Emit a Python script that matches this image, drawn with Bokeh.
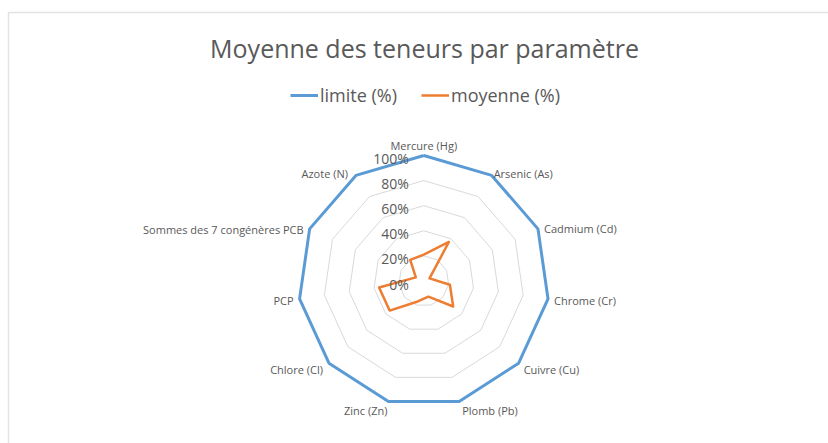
import math
from bokeh.plotting import figure
from bokeh.models import Range1d, Legend, LegendItem
from bokeh.core.properties import value
from bokeh.embed import file_html
from bokeh.resources import INLINE

# ---- data ----
categories = ["Mercure (Hg)", "Arsenic (As)", "Cadmium (Cd)", "Chrome (Cr)",
              "Cuivre (Cu)", "Plomb (Pb)", "Zinc (Zn)", "Chlore (Cl)", "PCP",
              "Sommes des 7 congénères PCB", "Azote (N)"]
limite = [100, 100, 100, 100, 100, 100, 100, 100, 100, 100, 100]
moyenne = [21, 37, 5, 21, 31, 13, 17, 36, 36, 7, 20]
ticks = [0, 20, 40, 60, 80, 100]
tick_labels = ["0%", "20%", "40%", "60%", "80%", "100%"]
title_text = "Moyenne des teneurs par paramètre"

# ---- layout / style ----
W, H = 828, 443
CX, CY, R = 423.3, 280.5, 125.5   # centre and 100% radius in pixels
GREY_TXT = "#595959"
FONT = value("Open Sans")

def px_x(px):
    return (px - CX) / R

def px_y(py):
    return (CY - py) / R

p = figure(width=W, height=H, output_backend="svg", toolbar_location=None,
           x_range=Range1d(px_x(0), px_x(W)), y_range=Range1d(px_y(H), px_y(0)),
           x_axis_location=None, y_axis_location=None, min_border=0,
           outline_line_color=None, background_fill_color="white",
           border_fill_color="white")
p.grid.visible = False

N = len(categories)
def pts(vals, scale=100.0):
    xs, ys = [], []
    for k, v in enumerate(vals):
        a = 2 * math.pi * k / N
        xs.append(v / scale * math.sin(a))
        ys.append(v / scale * math.cos(a))
    xs.append(xs[0]); ys.append(ys[0])
    return xs, ys

# chart border
p.line(x=[px_x(8), px_x(8), px_x(W + 5)], y=[px_y(H + 5), px_y(12), px_y(12)],
       line_color="#e3e3e3", line_width=1.5)

# grid rings
for t in ticks[1:]:
    xs, ys = pts([t] * N)
    p.line(xs, ys, line_color="#d9d9d9", line_width=1)

xs, ys = pts(limite)
r_lim = p.line(xs, ys, line_color="#5B9BD5", line_width=3, line_join="round")
xs, ys = pts(moyenne)
r_moy = p.line(xs, ys, line_color="#ED7D31", line_width=2.5, line_join="round")

# value axis labels
p.text(x=[0] * len(ticks), y=[t / 100 for t in ticks], text=tick_labels,
       x_offset=-15, y_offset=3, text_align="right", text_baseline="middle",
       text_font=FONT, text_font_size="14px", text_color=GREY_TXT)

# category labels
aligns = ["center", "left", "left", "left", "left", "left",
          "right", "right", "right", "right", "right"]
xoffs = [0, 2, 6, 6, 5, 3, -1, -6, -6, -6, -8]
yoffs = [-10, -2, 0, 2, 6, 9, 9, 6, 2, 1, -2]
lx, ly = pts(limite)
for k, cat in enumerate(categories):
    p.text(x=[lx[k]], y=[ly[k]], text=[cat], x_offset=xoffs[k], y_offset=yoffs[k],
           text_align=aligns[k], text_baseline="middle", text_font=FONT,
           text_font_size="11px", text_color=GREY_TXT)

# title
p.text(x=[px_x(424)], y=[px_y(47)], text=[title_text], text_align="center",
       text_baseline="middle", text_font=FONT, text_font_size="25px",
       text_color=GREY_TXT)

legend = Legend(items=[LegendItem(label="limite (%)", renderers=[r_lim]),
                       LegendItem(label="moyenne (%)", renderers=[r_moy])],
                orientation="horizontal", location=(290, 336),
                glyph_width=28, glyph_height=20, label_standoff=2, spacing=24,
                padding=0, margin=0, border_line_color=None,
                background_fill_alpha=0, label_text_font="Open Sans",
                label_text_font_size="18px", label_text_color=GREY_TXT)
p.add_layout(legend)

open("out.html", "w").write(file_html(p, INLINE))
